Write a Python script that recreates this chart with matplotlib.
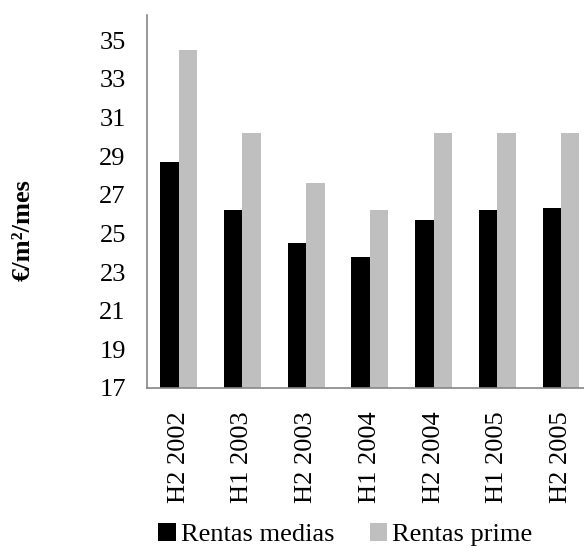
import numpy as np
import matplotlib
matplotlib.use("Agg")
import matplotlib.pyplot as plt

plt.rcParams['font.family'] = ['Liberation Serif', 'DejaVu Serif']

periods = ['H2 2002', 'H1 2003', 'H2 2003', 'H1 2004', 'H2 2004', 'H1 2005', 'H2 2005']
rentas_medias = [28.7, 26.2, 24.5, 23.8, 25.7, 26.2, 26.3]
rentas_prime = [34.5, 30.2, 27.6, 26.2, 30.2, 30.2, 30.2]
yticks = list(range(17, 37, 2))

fig = plt.figure(figsize=(5.84, 5.47), dpi=100)
ax = fig.add_axes([0.2512, 0.2907, 0.764, 0.682])

x = np.arange(len(periods))
w = 0.29
ax.bar(x - w / 2, rentas_medias, w, color='black', label='Rentas medias')
ax.bar(x + w / 2, rentas_prime, w, color='#bfbfbf', label='Rentas prime')

ax.set_xlim(-0.5, 6.5)
ax.set_ylim(17, 36.3)
ax.set_yticks(yticks)
ax.set_xticks(x)
ax.set_xticklabels(periods, rotation=90)
ax.tick_params(axis='y', length=0, pad=15, labelsize=19)
ax.tick_params(axis='x', length=0, pad=17, labelsize=19)

for side in ('top', 'right'):
    ax.spines[side].set_visible(False)
for side in ('left', 'bottom'):
    ax.spines[side].set_color('#868686')
    ax.spines[side].set_linewidth(1.2)

fig.text(23 / 584, 1 - 230 / 547, '€/m²/mes', rotation=90, fontsize=19,
         fontweight='bold', ha='center', va='center')

fig.legend(loc='center', bbox_to_anchor=(0.5916, 0.023), ncol=2, frameon=False,
           fontsize=19, handlelength=0.66, handleheight=0.66,
           handletextpad=0.19, columnspacing=1.36, borderaxespad=0, borderpad=0)

fig.savefig('out.png', dpi=100)
